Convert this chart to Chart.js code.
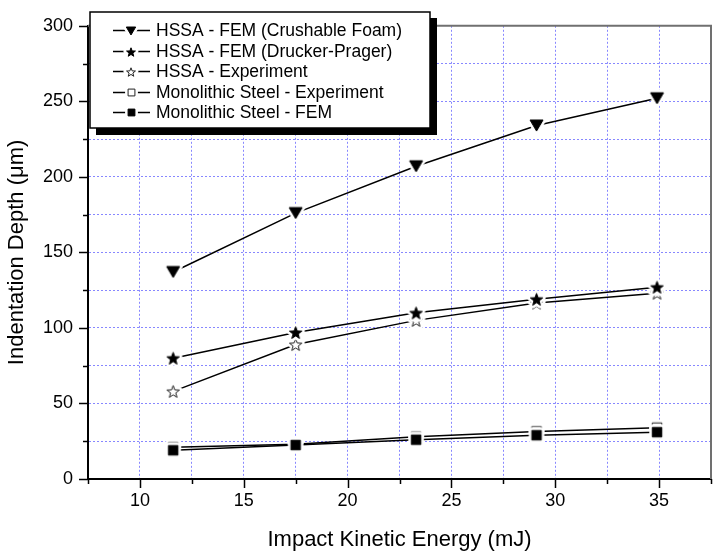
<!DOCTYPE html>
<html>
<head>
<meta charset="utf-8">
<script src="https://cdn.jsdelivr.net/npm/chart.js@4.4.1/dist/chart.umd.min.js"></script>
<style>
  body { margin: 0; background: #fff; }
  #wrap { width: 722px; height: 553px; }
</style>
</head>
<body>
<div id="wrap"><canvas id="myChart" width="722" height="553"></canvas></div>
<script>
'use strict';

// impact energies (mJ) and indentation depths (um)
var energy = [11.6, 17.5, 23.3, 29.1, 34.9];
var crushableFoam = [137, 176, 207, 234, 252];
var druckerPrager = [80, 97, 110, 119, 127];
var hssaExperiment = [58, 89, 105, 116.5, 123];
var steelExperiment = [21, 23, 28, 31.5, 34];
var steelFem = [19, 22.5, 26, 29, 31];

var seriesNames = [
  'HSSA - FEM (Crushable Foam)',
  'HSSA - FEM (Drucker-Prager)',
  'HSSA - Experiment',
  'Monolithic Steel - Experiment',
  'Monolithic Steel - FEM'
];
var xTickLabels = [10, 15, 20, 25, 30, 35];
var yTickLabels = [0, 50, 100, 150, 200, 250, 300];

var FONT = 'Arial, "Liberation Sans", sans-serif';

// marker sprites, with a white halo so the line stops short of the symbol
function tracePath(g, shape, cx, cy, r) {
  if (shape === 'down') {
    g.moveTo(cx - r, cy - r * 0.85);
    g.lineTo(cx + r, cy - r * 0.85);
    g.lineTo(cx, cy + r * 0.85);
    g.closePath();
  } else if (shape === 'star') {
    for (var k = 0; k < 10; k++) {
      var a = -Math.PI / 2 + k * Math.PI / 5;
      var rr = k % 2 === 0 ? r : r * 0.42;
      var px = cx + rr * Math.cos(a), py = cy + rr * Math.sin(a) + r * 0.1;
      if (k === 0) g.moveTo(px, py); else g.lineTo(px, py);
    }
    g.closePath();
  } else {
    g.rect(cx - r, cy - r, r * 2, r * 2);
  }
}

function makeMarker(shape, filled, size, halo) {
  var s = Math.ceil(size + halo * 2 + 2);
  var c = document.createElement('canvas');
  c.width = s; c.height = s;
  var g = c.getContext('2d');
  g.beginPath();
  tracePath(g, shape, s / 2, s / 2, size / 2);
  if (halo) {
    g.lineJoin = 'round';
    g.lineWidth = halo * 2;
    g.strokeStyle = '#fff';
    g.stroke();
  }
  g.fillStyle = filled ? '#000' : '#fff';
  g.fill();
  g.lineWidth = 1;
  g.strokeStyle = filled ? '#000' : '#222';
  g.stroke();
  return c;
}

var shapes = [['down', true, 13], ['star', true, 13], ['star', false, 13], ['square', false, 9.5], ['square', true, 9.5]];
var plotMarkers = shapes.map(function(s) { return makeMarker(s[0], s[1], s[2], 3); });
var legendMarkers = shapes.map(function(s) { return makeMarker(s[0], s[1], s[2] * 0.72, 3); });

var seriesValues = [crushableFoam, druckerPrager, hssaExperiment, steelExperiment, steelFem];

var datasets = seriesValues.map(function(vals, i) {
  return {
    label: seriesNames[i],
    data: vals.map(function(v, j) { return {x: energy[j], y: v}; }),
    borderColor: '#000',
    borderWidth: 1.5,
    pointStyle: plotMarkers[i],
    pointRadius: 5,
    fill: false,
    tension: 0,
    // solid squares sit on top of the hollow ones
    order: i === 4 ? 0 : 1
  };
});

// outward tick marks, long on labelled values
var tickMarks = {
  id: 'tickMarks',
  afterDraw: function(chart) {
    var ctx = chart.ctx, area = chart.chartArea;
    ctx.save();
    ctx.strokeStyle = '#000';
    ctx.lineWidth = 1.5;
    chart.scales.x.ticks.forEach(function(t) {
      var px = Math.round(chart.scales.x.getPixelForValue(t.value)) + 0.5;
      var len = t.label !== '' ? 9 : 5;
      ctx.beginPath(); ctx.moveTo(px, area.bottom); ctx.lineTo(px, area.bottom + len); ctx.stroke();
    });
    chart.scales.y.ticks.forEach(function(t) {
      var py = Math.round(chart.scales.y.getPixelForValue(t.value)) + 0.5;
      var len = t.label !== '' ? 9 : 5;
      ctx.beginPath(); ctx.moveTo(area.left, py); ctx.lineTo(area.left - len, py); ctx.stroke();
    });
    // top and right frame
    ctx.strokeStyle = '#707070';
    ctx.lineWidth = 2;
    ctx.beginPath();
    ctx.moveTo(area.left, area.top); ctx.lineTo(area.right, area.top); ctx.lineTo(area.right, area.bottom);
    ctx.stroke();
    ctx.restore();
  }
};

// boxed legend with drop shadow in the top-left corner of the plot
var boxLegend = {
  id: 'boxLegend',
  afterDraw: function(chart) {
    var ctx = chart.ctx;
    var left = 90, top = 12, right = 430, bottom = 128;
    ctx.save();
    ctx.fillStyle = '#000';
    ctx.fillRect(left + 6, top + 6, right - left + 1, bottom - top + 1);
    ctx.fillStyle = '#fff';
    ctx.fillRect(left, top, right - left, bottom - top);
    ctx.strokeStyle = '#000';
    ctx.lineWidth = 1.5;
    ctx.strokeRect(left, top, right - left, bottom - top);
    ctx.font = '17.5px ' + FONT;
    ctx.textBaseline = 'middle';
    ctx.fillStyle = '#000';
    chart.data.datasets.forEach(function(ds, i) {
      var y = Math.round(30 + i * 20.6) + 0.5;
      ctx.lineWidth = 1.3;
      ctx.beginPath(); ctx.moveTo(113, y); ctx.lineTo(150, y); ctx.stroke();
      var m = legendMarkers[i];
      ctx.drawImage(m, Math.round(131 - m.width / 2), Math.round(y - m.height / 2));
      ctx.fillText(ds.label, 156, y + 1);
    });
    ctx.restore();
  }
};

var gridStyle = {color: 'rgb(135,135,255)', lineWidth: 1, drawTicks: false};

var myChart = new Chart(document.getElementById('myChart'), {
  type: 'line',
  data: {datasets: datasets},
  options: {
    responsive: false,
    animation: false,
    layout: {padding: {top: 13, right: 2, left: 0, bottom: 0}},
    plugins: {legend: {display: false}, tooltip: {enabled: false}},
    scales: {
      x: {
        type: 'linear',
        min: 7.5,
        max: 37.5,
        grid: gridStyle,
        border: {display: true, color: '#000', width: 2, dash: [2, 2]},
        ticks: {
          stepSize: 2.5,
          padding: 11,
          color: '#000',
          font: {family: FONT, size: 18},
          maxRotation: 0,
          autoSkip: false,
          callback: function(v) {
            var r = Math.round(v * 10) / 10;
            return xTickLabels.indexOf(r) >= 0 ? String(r) : '';
          }
        },
        title: {display: true, text: 'Impact Kinetic Energy (mJ)', color: '#000',
                font: {family: FONT, size: 22}, padding: {top: 0, bottom: 0}},
        afterFit: function(scale) { scale.height = 74; }
      },
      y: {
        type: 'linear',
        min: 0,
        max: 300,
        grid: gridStyle,
        border: {display: true, color: '#000', width: 2, dash: [2, 2]},
        ticks: {
          stepSize: 25,
          padding: 15,
          color: '#000',
          font: {family: FONT, size: 18},
          autoSkip: false,
          callback: function(v) {
            return yTickLabels.indexOf(v) >= 0 ? String(v) : '';
          }
        },
        title: {display: true, text: 'Indentation Depth (\u03bcm)', color: '#000',
                font: {family: FONT, size: 22}, padding: {top: 4, bottom: 0}},
        afterFit: function(scale) { scale.width = 88; }
      }
    }
  },
  plugins: [tickMarks, boxLegend]
});
</script>
</body>
</html>
